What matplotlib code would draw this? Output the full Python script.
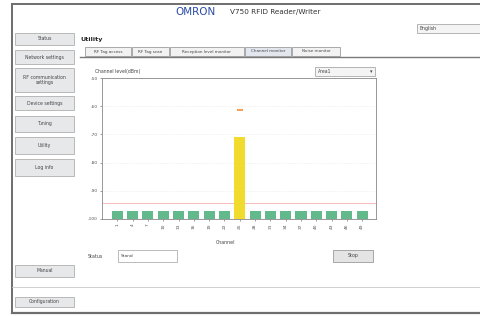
import numpy as np
import matplotlib
matplotlib.use("Agg")
import matplotlib.pyplot as plt
from matplotlib.patches import Rectangle

# chart data
channels = ["1", "4", "7", "10", "13", "16", "19", "22", "25", "28",
            "31", "34", "37", "40", "43", "46", "49"]
levels = [-97.3, -97.3, -97.3, -97.3, -97.3, -97.3, -97.3, -97.3, -70.8,
          -97.3, -97.3, -97.3, -97.3, -97.3, -97.3, -97.3, -97.3]
peak_hold = [np.nan] * 8 + [-61.5] + [np.nan] * 8
threshold = -94.3
yticks = [-100, -90, -80, -70, -60, -50]

side_buttons = ["Status", "Network settings", "RF communication\nsettings",
                "Device settings", "Tuning", "Utility", "Log info"]
side_y = [(33, 45), (50, 64), (68, 92), (96, 110), (116, 132), (137, 154), (159, 176)]
tabs = ["RF Tag access", "RF Tag scan", "Reception level monitor",
        "Channel monitor", "Noise monitor"]
tab_x = [(85, 131), (132, 169), (170, 244), (245, 291), (292, 340)]

W, H = 480, 316
fig = plt.figure(figsize=(W / 100, H / 100), dpi=100)
fig.patch.set_facecolor("white")


def fx(x):
    return x / W


def fy(y):
    return 1 - y / H


def box(x0, y0, x1, y1, fc="#e6e8ea", ec="#b0b0b0", lw=0.6, z=1):
    fig.patches.append(Rectangle((fx(x0), fy(y1)), fx(x1) - fx(x0), fy(y0) - fy(y1),
                                 transform=fig.transFigure, fc=fc, ec=ec, lw=lw, zorder=z))


def line(x0, y0, x1, y1, c="#9a9a9a", lw=0.8):
    fig.add_artist(plt.Line2D([fx(x0), fx(x1)], [fy(y0), fy(y1)], color=c, lw=lw))


def txt(x, y, s, size=3.6, **kw):
    kw.setdefault("ha", "center")
    kw.setdefault("va", "center")
    kw.setdefault("color", "#444444")
    fig.text(fx(x), fy(y), s, fontsize=size, **kw)


# outer frame
line(12, 4, 480, 4, c="#6e6e6e", lw=1.4)
line(12, 4, 12, 313, c="#6e6e6e", lw=1.4)
line(12, 313, 480, 313, c="#6e6e6e", lw=1.6)
line(12, 287, 480, 287, c="#c8c8c8", lw=0.6)

# header
txt(195, 12, "OMRON", size=7.5, color="#2a4aa8")
txt(275, 12, "V750 RFID Reader/Writer", size=5.2, color="#333333")
box(417, 24, 482, 33, fc="#f4f4f4", ec="#aaaaaa")
txt(420, 28.5, "English", size=3.4, ha="left")

# side menu
for name, (y0, y1) in zip(side_buttons, side_y):
    box(15, y0, 74, y1)
    txt(44.5, (y0 + y1) / 2, name, size=3.3, linespacing=1.2)
box(15, 265, 74, 277)
txt(44.5, 271, "Manual", size=3.3)
box(15, 297, 74, 307)
txt(44.5, 302, "Configuration", size=3.3)

# page title and tabs
txt(80, 40, "Utility", size=4.6, ha="left", fontweight="bold", color="#222222")
for i, (name, (x0, x1)) in enumerate(zip(tabs, tab_x)):
    box(x0, 47, x1, 56, fc="#e2e6ee" if i == 3 else "#f2f2f2", ec="#9d9d9d")
    txt((x0 + x1) / 2, 51.5, name, size=3.0)
line(80, 57, 480, 57, c="#7a7a7a", lw=1.0)

# chart header
txt(95, 71, "Channel level(dBm)", size=3.3, ha="left")
box(315, 67, 375, 76, fc="#f4f4f4", ec="#aaaaaa")
txt(318, 71.5, "Area1", size=3.3, ha="left")
txt(371, 71.5, "\u25be", size=3.6)

# chart
ax = fig.add_axes([fx(102), fy(219), fx(376) - fx(102), fy(78) - fy(219)])
x = np.arange(len(channels))
colors = ["#f1dc2e" if v > -90 else "#62b98c" for v in levels]
ax.bar(x, np.array(levels) - yticks[0], bottom=yticks[0], width=0.72,
       color=colors, zorder=3)
ax.plot(x, peak_hold, ls="none", marker="_", ms=5, mew=1.2, color="#f08c3c", zorder=4)
ax.axhline(threshold, color="#f0a0a0", lw=0.5, zorder=2)
ax.set_xlim(-1, 16.9)
ax.set_ylim(yticks[0], yticks[-1])
ax.set_yticks(yticks)
ax.set_yticklabels([str(t) for t in yticks])
ax.set_xticks(x)
ax.set_xticklabels(channels, rotation=90)
ax.tick_params(labelsize=3.2, colors="#555555", length=1.5, width=0.4, pad=1.5)
ax.grid(axis="y", color="#dddddd", lw=0.4, ls=":")
for s in ax.spines.values():
    s.set_color("#888888")
    s.set_linewidth(0.6)

txt(225, 243, "Channel", size=3.4)

# status row
txt(88, 256, "Status", size=3.4, ha="left")
box(118, 250, 177, 262, fc="white", ec="#b0b0b0")
txt(121, 256, "Stand", size=3.2, ha="left")
box(333, 250, 373, 262, fc="#e4e4e4", ec="#9a9a9a")
txt(353, 256, "Stop", size=3.4)

fig.savefig("out.png", dpi=100)
